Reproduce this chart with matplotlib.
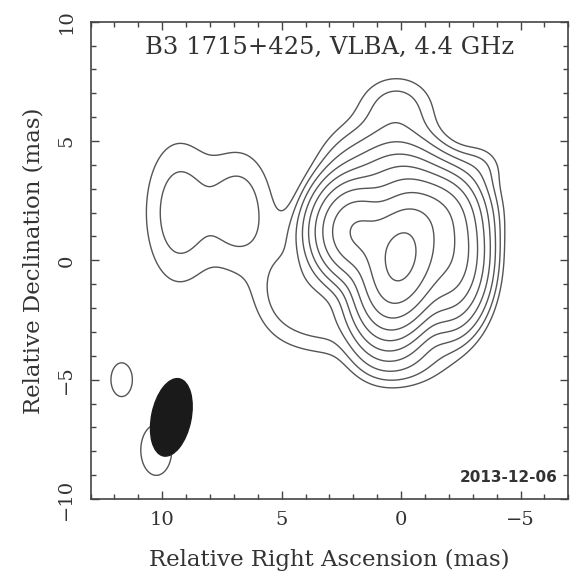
import matplotlib as mpl
mpl.use('Agg')
import matplotlib.pyplot as plot
from matplotlib.patches import Ellipse
from matplotlib.ticker import MultipleLocator
import numpy as np

TITLE = "B3 1715+425, VLBA, 4.4 GHz"
DATE = "2013-12-06"
X_LABEL = "Relative Right Ascension (mas)"
Y_LABEL = "Relative Declination (mas)"

# gaussian components of the map (x, y in mas, peak, sigma_x, sigma_y, angle in deg)
#         core   C1    R1    R2    T     UL    UR    SH    U2    U     D     D2    S     N     LB1   LB2   W1     W2
COMP_X = [0.0,  1.85, -2.0, -1.5, 0.3,  2.0, -2.6, -3.3, 0.2,  0.2,  4.6,  3.0,  0.0,  4.7,  9.3,  6.8,  11.7,  10.25]
COMP_Y = [0.1,  1.2,  0.3,  2.0,  3.2,  3.5,  2.2,  3.9,  5.0,  6.6,  -1.3, -2.6, -4.0, 1.2,  2.0,  2.1,  -5.0,  -7.95]
COMP_PEAK = [640, 260, 110, 60,  25,   4,    3,    1.5,  3,    2.0,  3.0,  2.0,  3.0,  0.5,  2.8,  2.8,  2.0,   2.0]
COMP_SX = [0.80, 0.85, 0.75, 0.75, 0.9, 0.9,  0.9,  0.6,  1.0,  1.0,  1.0,  1.0,  1.2,  0.7,  0.95, 0.95, 0.38,  0.55]
COMP_SY = [1.42, 1.0,  1.4,  0.8,  0.9, 1.2,  1.0,  0.6,  1.0,  0.8,  1.3,  0.9,  0.8,  0.8,  2.0,  1.65, 0.6,   0.9]
COMP_ANG = [11.6, 0, 0, 0, 0, 0, 0, 0, 0, 0, 0, 0, 0, 0, 0, 0, 0, 0]

LEVELS = [1, 2, 4, 8, 16, 32, 64, 128, 256, 512]

# restoring beam (center, FWHM minor/major in mas, angle)
BEAM_X = 9.62
BEAM_Y = -6.58
BEAM_MIN = 1.65
BEAM_MAJ = 3.3
BEAM_ANG = 11.6

X_LIMIT = (13, -7)
Y_LIMIT = (-10, 10)

LINE_COLOR = '#555555'
TEXT_COLOR = '#333333'

mpl.rcParams['font.family'] = 'DejaVu Serif'

fig = plot.figure(figsize=(5.77, 5.76), dpi=100)
ax = fig.add_axes([0.157, 0.1337, 0.828, 0.8286])

xs = np.linspace(X_LIMIT[1], X_LIMIT[0], 500)
ys = np.linspace(Y_LIMIT[0], Y_LIMIT[1], 500)
gx, gy = np.meshgrid(xs, ys)
image = np.zeros_like(gx)
for i in range(len(COMP_X)):
    th = np.radians(COMP_ANG[i])
    dx = gx - COMP_X[i]
    dy = gy - COMP_Y[i]
    u = dx * np.cos(th) + dy * np.sin(th)
    v = -dx * np.sin(th) + dy * np.cos(th)
    image += COMP_PEAK[i] * np.exp(-0.5 * ((u / COMP_SX[i]) ** 2 + (v / COMP_SY[i]) ** 2))

ax.contour(gx, gy, image, levels=LEVELS, colors=LINE_COLOR, linewidths=1.0)

beam = Ellipse((BEAM_X, BEAM_Y), BEAM_MIN, BEAM_MAJ, angle=BEAM_ANG,
               facecolor='#1a1a1a', edgecolor='#1a1a1a', zorder=5)
ax.add_patch(beam)

ax.set_xlim(X_LIMIT)
ax.set_ylim(Y_LIMIT)

ax.xaxis.set_major_locator(MultipleLocator(5))
ax.xaxis.set_minor_locator(MultipleLocator(1))
ax.yaxis.set_major_locator(MultipleLocator(5))
ax.yaxis.set_minor_locator(MultipleLocator(1))
ax.tick_params(which='both', direction='in', top=True, right=True, color='#444444', width=1.0)
ax.tick_params(which='major', length=5.5)
ax.tick_params(which='minor', length=3.6)
ax.tick_params(axis='x', labelsize=14, pad=9, labelcolor=TEXT_COLOR)
ax.tick_params(axis='y', labelsize=14, pad=11, labelcolor=TEXT_COLOR)
for lab in ax.get_yticklabels():
    lab.set_rotation(90)
    lab.set_va('center')

for s in ax.spines.values():
    s.set_linewidth(1.2)
    s.set_color('#444444')

ax.set_xlabel(X_LABEL, fontsize=16.5, color=TEXT_COLOR, labelpad=14)
ax.set_ylabel(Y_LABEL, fontsize=16.5, color=TEXT_COLOR, labelpad=9)

ax.text(0.5, 0.945, TITLE, transform=ax.transAxes, ha='center', va='center',
        fontsize=17.5, color=TEXT_COLOR)
ax.text(0.978, 0.045, DATE, transform=ax.transAxes, ha='right', va='center',
        fontsize=11, fontweight='bold', family='DejaVu Sans', color=TEXT_COLOR)

plot.savefig('out.png', dpi=100)
